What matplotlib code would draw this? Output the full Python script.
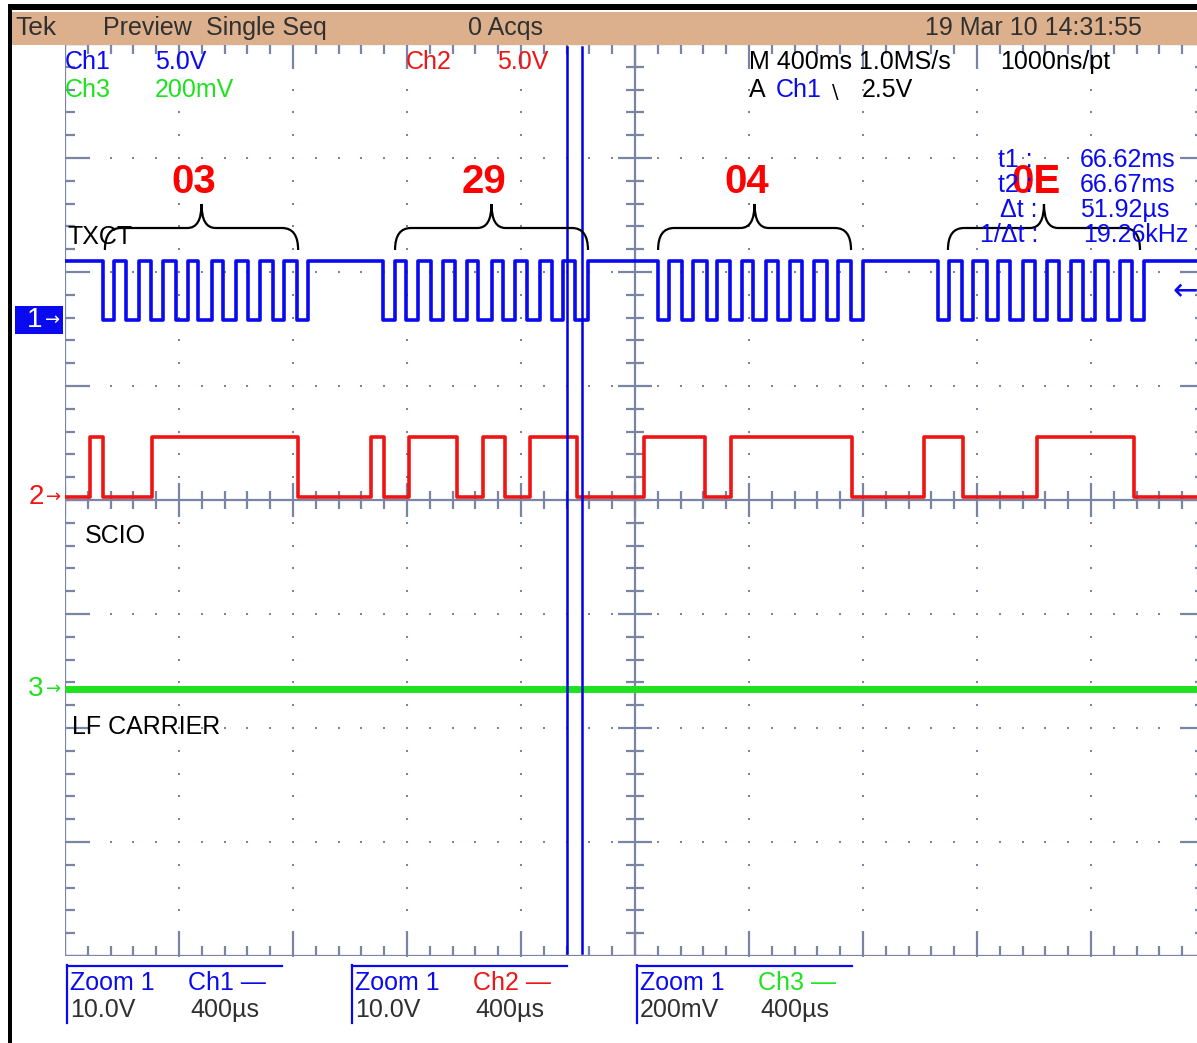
import numpy as np
import matplotlib
matplotlib.use('Agg')
import matplotlib.pyplot as plt
import matplotlib.transforms as mtransforms
from matplotlib.patches import Rectangle, PathPatch
from matplotlib.path import Path
from matplotlib.lines import Line2D
from matplotlib.collections import LineCollection

W, H = 1197, 1043
plt.rcParams['font.family'] = ['Liberation Sans Narrow', 'Liberation Sans', 'DejaVu Sans']

# zoom 1 settings
us_per_div = 400
px_per_div = 114
ch1_pos, ch2_pos, ch3_pos = 1.58, 0.03, -1.66     # ground markers, divisions
ch1_vdiv, ch2_vdiv, ch3_vdiv = 10.0, 10.0, 0.2    # V/div
logic_high = 5.2                                  # V
trig_level = 2.5                                  # V, Ch1 falling

# TXCT clock bursts (us from left edge of screen)
txct_fall = [133, 214, 302, 389, 467, 554, 642, 730, 814,
             1117, 1196, 1283, 1368, 1449, 1536, 1620, 1708, 1790,
             2081, 2164, 2252, 2333, 2414, 2502, 2586, 2673, 2757,
             3064, 3146, 3234, 3316, 3404, 3488, 3572, 3660, 3744]
txct_rise = [172, 260, 344, 432, 516, 600, 684, 768, 853,
             1158, 1239, 1325, 1409, 1497, 1579, 1667, 1747, 1835,
             2119, 2202, 2288, 2374, 2460, 2544, 2628, 2712, 2800,
             3102, 3186, 3272, 3360, 3444, 3530, 3614, 3702, 3786]

# SCIO edges (us), line starts low
scio_edges = [88, 133, 305, 818, 1074, 1119, 1207, 1375, 1467, 1544,
              1632, 1796, 2032, 2246, 2337, 2761, 3014, 3151, 3411, 3751]

# LF carrier stays flat
lf_level = 0.0

# cursors
t1_cursor = 1761.0
dt_cursor = 51.92

# decoded bytes
byte_labels = ['03', '29', '04', '0E']
byte_spans = [(140, 818), (1158, 1835), (2081, 2758), (3098, 3772)]

GRAT = '#7a85a5'
BLUE = '#0a0af0'
RED = '#f01414'
GREEN = '#1ee21e'
TXT = '#303030'


def fx(px):
    return px / W


def fy(py):
    return 1 - py / H


fig = plt.figure(figsize=(W / 100, H / 100), dpi=100)
fig.patch.set_facecolor('white')

left, top, bottom = 65, 44, 956
ax = fig.add_axes([fx(left), fy(bottom), fx(W - left), (bottom - top) / H])
tmax = (W - left) / px_per_div * us_per_div
ax.set_xlim(0, tmax)
ax.set_ylim(-4, 4)
ax.axis('off')

t_px = us_per_div / px_per_div      # us per pixel
d_px = 1.0 / px_per_div             # div per pixel

# graticule: dotted major lines
t_minor = np.arange(0, 10 * us_per_div + 1, us_per_div / 5)
y_minor = np.round(np.arange(-4, 4.001, 0.2), 3)
for k in range(1, 10):
    if k == 5:
        continue
    ax.plot(np.full(len(y_minor), k * us_per_div), y_minor, ls='none',
            marker='s', ms=1.6, mew=0, color=GRAT)
for j in range(-3, 4):
    if j == 0:
        continue
    ax.plot(t_minor, np.full(len(t_minor), float(j)), ls='none',
            marker='s', ms=1.6, mew=0, color=GRAT)

# frame and centre lines
segs = [[(0, -4), (0, 4)], [(0, 4), (4000, 4)], [(0, -4), (4000, -4)],
        [(4000, -4), (4000, 4)], [(2000, -4), (2000, 4)], [(0, 0), (4000, 0)]]
# ticks
for i, t in enumerate(t_minor):
    major = i % 5 == 0
    ln = (25 if major else 10) * d_px
    cl = (17 if major else 9) * d_px
    segs.append([(t, 4), (t, 4 - ln)])
    segs.append([(t, -4), (t, -4 + ln)])
    segs.append([(t, -cl), (t, cl)])
for i, y in enumerate(y_minor):
    major = i % 5 == 0
    ln = (25 if major else 10) * t_px
    cl = (17 if major else 9) * t_px
    segs.append([(0, y), (ln, y)])
    segs.append([(4000, y), (4000 - ln, y)])
    segs.append([(2000 - cl, y), (2000 + cl, y)])
ax.add_collection(LineCollection(segs, colors=GRAT, linewidths=1.6, zorder=1))


def logic_trace(edges, start_high, pos, vdiv):
    t = np.concatenate([[0.0], np.asarray(edges, float), [tmax]])
    lv = np.array([(i % 2 == 0) == start_high for i in range(len(t))], float)
    lv[-1] = lv[-2]
    return t, pos + lv * logic_high / vdiv


t1, v1 = logic_trace(sorted(txct_fall + txct_rise), True, ch1_pos, ch1_vdiv)
ax.step(t1, v1, where='post', color=BLUE, lw=2.6, zorder=4)
t2, v2 = logic_trace(scio_edges, False, ch2_pos, ch2_vdiv)
ax.step(t2, v2, where='post', color=RED, lw=2.6, zorder=4)
ax.plot([0, tmax], [ch3_pos + lf_level / ch3_vdiv] * 2, color=GREEN, lw=5,
        zorder=4, solid_capstyle='butt')

# cursors
for tc in (t1_cursor, t1_cursor + dt_cursor):
    ax.axvline(tc, ymin=0.003, ymax=0.997, color='#0000e6', lw=1.8, zorder=5)

# byte braces
y_end, y_bar, y_tip = (500 - 250) * d_px, (500 - 228) * d_px, (500 - 204) * d_px
r1, r2 = 16 * t_px, 14 * t_px
for (a, b), lab in zip(byte_spans, byte_labels):
    m = (a + b) / 2
    verts = [(a, y_end), (a, y_bar), (a + r1, y_bar), (m - r2, y_bar),
             (m, y_bar), (m, y_tip), (m, y_bar), (m + r2, y_bar),
             (b - r1, y_bar), (b, y_bar), (b, y_end)]
    codes = [Path.MOVETO, Path.CURVE3, Path.CURVE3, Path.LINETO,
             Path.CURVE3, Path.CURVE3, Path.CURVE3, Path.CURVE3,
             Path.LINETO, Path.CURVE3, Path.CURVE3]
    ax.add_patch(PathPatch(Path(verts, codes), fc='none', ec='black',
                           lw=1.6, zorder=6))
    ax.text(m - 8 * t_px, (500 - 182) * d_px, lab, color='#ff0000',
            fontsize=29, fontweight='bold', ha='center', va='center', zorder=8)

# ground markers at the left
blend = mtransforms.blended_transform_factory(fig.transFigure, ax.transData)
ax.add_patch(Rectangle((fx(15), ch1_pos - 14 * d_px), fx(48), 28 * d_px,
                       transform=blend, fc='#0a0af0', ec='none', clip_on=False))
ax.text(fx(35), ch1_pos, '1', transform=blend, color='white', fontsize=20,
        ha='center', va='center')
ax.text(fx(53), ch1_pos, '\u2192', transform=blend, color='white', fontsize=13,
        ha='center', va='center', family='DejaVu Sans')
for pos, lab, col in ((ch2_pos, '2', RED), (ch3_pos, '3', GREEN)):
    ax.text(fx(36), pos, lab, transform=blend, color=col, fontsize=20,
            ha='center', va='center')
    ax.text(fx(54), pos, '\u2192', transform=blend, color=col, fontsize=13,
            ha='center', va='center', family='DejaVu Sans')
# trigger level marker at the right
ax.text(fx(1172), ch1_pos + trig_level / ch1_vdiv, '\u2190', transform=blend,
        color=BLUE, fontsize=22, ha='left', va='center', family='DejaVu Sans')

# screen frame and status bar
fig.patches.append(Rectangle((fx(8), fy(10)), fx(W), 6 / H,
                             transform=fig.transFigure, fc='black', ec='none'))
fig.patches.append(Rectangle((fx(8), 0), fx(4), fy(4),
                             transform=fig.transFigure, fc='black', ec='none'))
fig.patches.append(Rectangle((fx(12), fy(45)), fx(W - 12), 33 / H,
                             transform=fig.transFigure, fc='#dcb08c', ec='none'))


def label(x, y, s, color=TXT, size=18, **kw):
    fig.text(fx(x), fy(y), s, color=color, fontsize=size, ha='left',
             va='center', **kw)


label(15, 28, 'Tek', size=19)
label(103, 28, 'Preview')
label(206, 28, 'Single Seq')
label(468, 28, '0 Acqs')
label(925, 28, '19 Mar 10 14:31:55')

label(65, 62, 'Ch1', BLUE)
label(155, 62, '5.0V', BLUE)
label(65, 90, 'Ch3', GREEN)
label(155, 90, '200mV', GREEN)
label(406, 62, 'Ch2', RED)
label(497, 62, '5.0V', RED)
label(749, 62, 'M 400ms 1.0MS/s', 'black')
label(1000, 62, '1000ns/pt', 'black')
label(749, 90, 'A', 'black')
label(776, 90, 'Ch1', BLUE)
label(832, 92, '\\', 'black', size=14, family='DejaVu Sans')
label(862, 90, '2.5V', 'black')

label(998, 160, 't1 :', BLUE)
label(1080, 160, '66.62ms', BLUE)
label(998, 185, 't2 :', BLUE)
label(1080, 185, '66.67ms', BLUE)
label(1000, 210, '\u0394t :', BLUE)
label(1080, 210, '51.92\u00b5s', BLUE)
label(980, 235, '1/\u0394t :', BLUE)
label(1083, 235, '19.26kHz', BLUE)

label(67, 237, 'TXCT', 'black')
label(85, 536, 'SCIO', 'black')
label(72, 727, 'LF CARRIER', 'black')

# zoom readouts under the screen
readouts = [(67, 'Ch1 \u2014', BLUE, '10.0V'),
            (352, 'Ch2 \u2014', RED, '10.0V'),
            (637, 'Ch3 \u2014', GREEN, '200mV')]
for x0, ch, col, scale in readouts:
    fig.add_artist(Line2D([fx(x0), fx(x0 + 215)], [fy(966), fy(966)],
                          transform=fig.transFigure, color=BLUE, lw=1.6))
    fig.add_artist(Line2D([fx(x0), fx(x0)], [fy(965), fy(1023)],
                          transform=fig.transFigure, color=BLUE, lw=1.6))
    label(x0 + 3, 983, 'Zoom 1', BLUE)
    label(x0 + 121, 983, ch, col)
    label(x0 + 3, 1010, scale, TXT)
    label(x0 + 123, 1010, '400\u00b5s', TXT)

fig.savefig('out.png', dpi=100)
